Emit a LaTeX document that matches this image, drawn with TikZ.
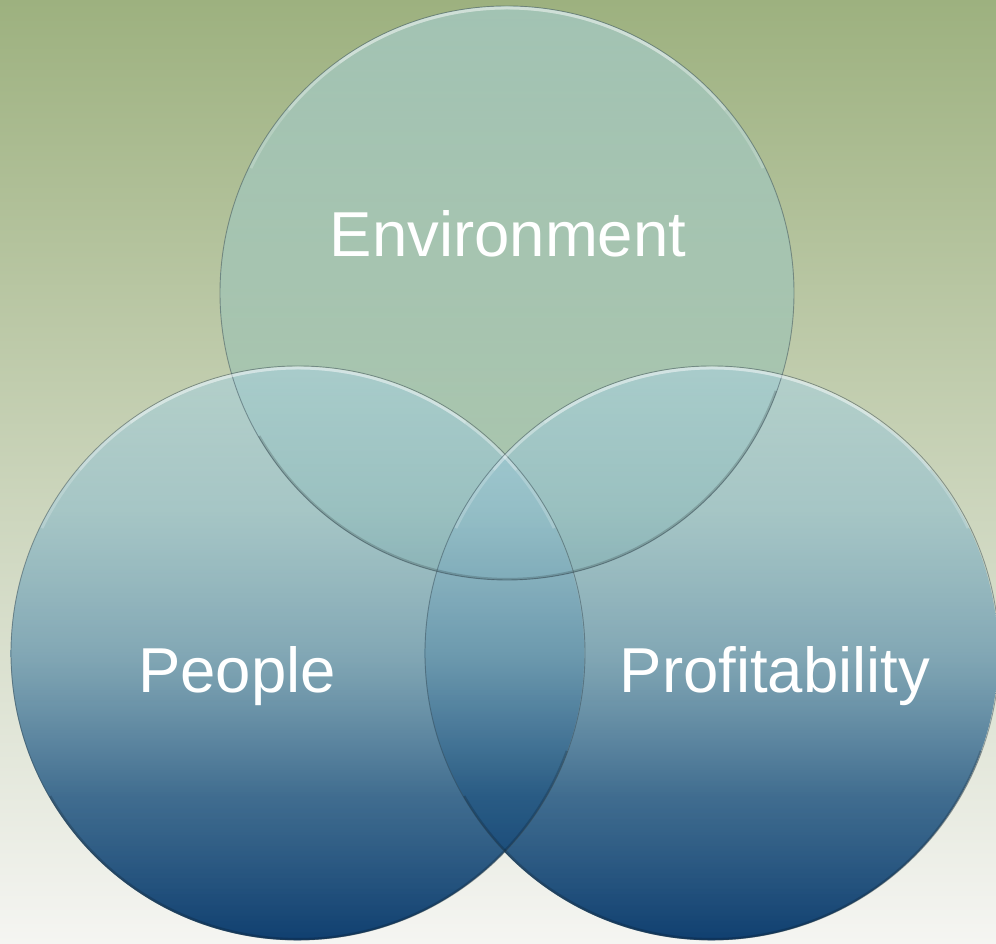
\documentclass[tikz,border=0pt]{standalone}
\usepackage{fontspec}
\setmainfont{Liberation Sans}
\usetikzlibrary{calc,fadings}

\definecolor{bgtop}{HTML}{9DB17F}
\definecolor{bgmid}{HTML}{CAD3B6}
\definecolor{bgbot}{HTML}{F5F5F2}
\definecolor{envtop}{HTML}{A6CFD6}
\definecolor{envbot}{HTML}{90B89C}
\definecolor{discA}{RGB}{169,210,225}
\definecolor{discB}{RGB}{146,190,202}
\definecolor{discC}{RGB}{103,150,173}
\definecolor{discD}{RGB}{38,89,131}
\definecolor{discE}{RGB}{9,58,108}
\definecolor{rimdark}{HTML}{3A4E58}

% blue disc body: pale teal on top, deep navy at the bottom
% (the shape spans the middle half of the 100bp shading)
\pgfdeclareverticalshading{discshade}{100bp}{
  color(0bp)=(discE); color(25bp)=(discE); color(37.5bp)=(discD);
  color(50bp)=(discC); color(62.5bp)=(discB); color(75bp)=(discA);
  color(100bp)=(discA)}

% the blue discs grow more opaque towards their lower edge
\tikzfading[name=discfade, top color=transparent!45, middle color=transparent!20,
  bottom color=transparent!3]

\tikzset{
  disc/.style={circle, inner sep=0pt, minimum size=574pt},
  envdisc/.style={disc, shade, top color=envtop, bottom color=envbot,
    fill opacity=0.6},
  bluedisc/.style={disc, shading=discshade, path fading=discfade},
  outline/.style={rimdark, draw opacity=0.5, line width=0.9pt},
  glint/.style={white, draw opacity=0.2, line width=3pt},
  shadeedge/.style={black, draw opacity=0.16, line width=2.2pt},
  caption/.style={text=white, font=\fontsize{63.5}{70}\selectfont, anchor=base,
    inner sep=0pt}
}

\begin{document}
\begin{tikzpicture}[x=1pt,y=1pt]
  % backdrop
  \shade[top color=bgtop, middle color=bgmid, bottom color=bgbot]
    (0,0) rectangle (996,944);
  \useasboundingbox (0,0) rectangle (996,944);

  % the three discs
  \node[envdisc]  (env)    at (507,651) {};
  \node[bluedisc] (people) at (298,291) {};
  \node[bluedisc] (profit) at (712,291) {};

  % outlines and bevel: light rim on top, darker lip on the lower edge
  \foreach \c in {env,people,profit}{
    \draw[outline] (\c.center) circle[radius=287];
    \foreach \a in {64,50,36}{
      \draw[glint] ($(\c.center)+(90+\a:285)$) arc[start angle=90+\a, end angle=90-\a, radius=285];
    }
    \draw[shadeedge] ($(\c.center)+(-150:286)$) arc[start angle=-150, end angle=-20, radius=286];
  }

  % captions
  \node[caption] (envlabel)    at (508,687) {Environment};
  \node[caption] (peoplelabel) at (237,251) {People};
  \node[caption] (profitlabel) at (775,251) {Profitability};
\end{tikzpicture}
\end{document}
